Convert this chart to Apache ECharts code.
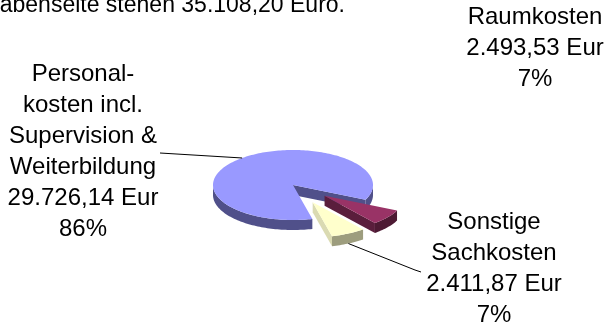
<!DOCTYPE html>
<html><head><meta charset="utf-8">
<script src="https://cdn.jsdelivr.net/npm/echarts@6/dist/echarts.min.js"></script>
<style>html,body{margin:0;padding:0;background:#fff;overflow:hidden}#c{width:610px;height:326px}</style>
</head><body><div id="c"></div>
<script>
// ---- data ----
const categories = ['Personalkosten incl. Supervision & Weiterbildung', 'Raumkosten', 'Sonstige Sachkosten'];
const values = [29726.14, 2493.53, 2411.87];
const amountLabels = ['29.726,14 Eur', '2.493,53 Eur', '2.411,87 Eur'];
const percentLabels = ['86%', '7%', '7%'];
const nameLines = [['Personal-', 'kosten incl.', 'Supervision &', 'Weiterbildung'], ['Raumkosten'], ['Sonstige', 'Sachkosten']];
const headerText = 'Auf der Ausgabenseite stehen 35.108,20 Euro.';
const explodeFrac = [0, 0.5, 0.55];

// ---- style ----
const topColors = ['#9999ff', '#993366', '#ffffcc'];
const sideColors = ['#50508a', '#4d1a33', '#9d9d7e'];
const faceColors = ['#50508a', '#5a1e3c', '#dadab2'];
const FONT = '24px "Liberation Sans", Arial, sans-serif';

// ---- 3D pie geometry ----
const G = { cx: 293, cy: 185, rx: 80, ry: 35, h: 10, startDeg: 76 };
const total = values.reduce((a, b) => a + b, 0);
function sliceGeom(i) {
  let acc = 0;
  for (let k = 0; k < i; k++) acc += values[k];
  const a0 = G.startDeg * Math.PI / 180 + acc / total * 2 * Math.PI;
  const a1 = a0 + values[i] / total * 2 * Math.PI;
  const mid = (a0 + a1) / 2;
  const cx = G.cx + explodeFrac[i] * G.rx * Math.cos(mid);
  const cy = G.cy + explodeFrac[i] * G.ry * Math.sin(mid);
  const pt = (t, dy) => [cx + G.rx * Math.cos(t), cy + G.ry * Math.sin(t) + (dy || 0)];
  return { a0, a1, mid, cx, cy, pt };
}
function arc(g, a, b, dy) {
  const n = Math.max(4, Math.ceil(Math.abs(b - a) / (Math.PI / 120)));
  const out = [];
  for (let j = 0; j <= n; j++) out.push(g.pt(a + (b - a) * j / n, dy));
  return out;
}
function renderItem(params, api) {
  const i = params.dataIndex;
  const g = sliceGeom(i);
  const children = [];
  const base = i * 10;
  const brk = [g.a0];
  for (let k = Math.ceil(g.a0 / Math.PI); k * Math.PI < g.a1; k++) if (k * Math.PI > g.a0) brk.push(k * Math.PI);
  brk.push(g.a1);
  for (let j = 0; j < brk.length - 1; j++) {
    const a = brk[j], b = brk[j + 1];
    if (Math.sin((a + b) / 2) > 0) {
      const pts = arc(g, a, b, 0).concat(arc(g, b, a, G.h));
      children.push({ type: 'polygon', z2: base + 1, shape: { points: pts }, style: { fill: sideColors[i] } });
    }
  }
  const c0 = [g.cx, g.cy], c1 = [g.cx, g.cy + G.h];
  if (Math.cos(g.a0) < 0) children.push({ type: 'polygon', z2: base + 2, shape: { points: [c0, g.pt(g.a0), g.pt(g.a0, G.h), c1] }, style: { fill: faceColors[i] } });
  if (Math.cos(g.a1) > 0) children.push({ type: 'polygon', z2: base + 2, shape: { points: [c0, g.pt(g.a1), g.pt(g.a1, G.h), c1] }, style: { fill: faceColors[i] } });
  children.push({ type: 'polygon', z2: base + 5, shape: { points: [c0].concat(arc(g, g.a0, g.a1, 0)) }, style: { fill: api.visual('color') } });
  return { type: 'group', children };
}

// ---- labels ----
const labelPos = [[83, 152], [535, 48.5], [494, 268.5]];
const graphics = [];
graphics.push({ type: 'text', x: 345, y: 6, z: 10, style: { text: headerText, font: '23px "Liberation Sans", Arial, sans-serif', fill: '#000', align: 'right', verticalAlign: 'middle' } });
categories.forEach((c, i) => {
  graphics.push({ type: 'text', x: labelPos[i][0], y: labelPos[i][1], z: 10,
    style: { text: nameLines[i].concat([amountLabels[i], percentLabels[i]]).join('\n'), font: FONT, fill: '#000', align: 'center', verticalAlign: 'middle', lineHeight: 31 } });
});
const g0 = sliceGeom(0);
graphics.push({ type: 'polyline', z: 10, shape: { points: [g0.pt(g0.mid), [160, 153]] }, style: { stroke: '#000', lineWidth: 1, fill: null } });
const g2 = sliceGeom(2);
graphics.push({ type: 'polyline', z: 10, shape: { points: [g2.pt(g2.mid, G.h), [415, 270], [421, 272]] }, style: { stroke: '#000', lineWidth: 1, fill: null } });

const chart = echarts.init(document.getElementById('c'), null, { renderer: 'canvas' });
chart.setOption({
  animation: false,
  backgroundColor: '#fff',
  series: [{
    type: 'custom', coordinateSystem: 'none', renderItem,
    data: values.map((v, i) => ({ name: categories[i], value: v, itemStyle: { color: topColors[i] } }))
  }],
  graphic: graphics
});
</script></body></html>
